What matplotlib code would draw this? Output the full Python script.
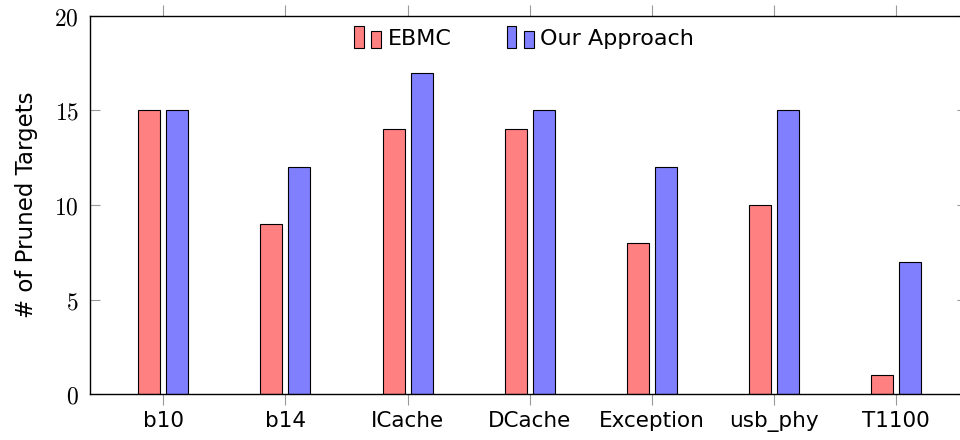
import matplotlib
matplotlib.use("Agg")
import numpy as np
import matplotlib.pyplot as plt
from matplotlib.patches import Rectangle
from matplotlib.legend_handler import HandlerBase
from matplotlib.ticker import FixedLocator, FuncFormatter

categories = ["b10", "b14", "ICache", "DCache", "Exception", "usb_phy", "T1100"]
ebmc = [15, 9, 14, 14, 8, 10, 1]
ours = [15, 12, 17, 15, 12, 15, 7]
yticks = [0, 5, 10, 15, 20]

red = "#ff8080"
blue = "#8080ff"

plt.rcParams["mathtext.fontset"] = "cm"
plt.rcParams["font.family"] = ["DejaVu Sans"]


class BarHandler(HandlerBase):
    # pgfplots style ybar legend: two small bars
    def create_artists(self, legend, orig_handle, xdescent, ydescent,
                       width, height, fontsize, trans):
        fc = orig_handle.get_facecolor()
        w = width * 0.36
        y0 = -ydescent - height * 0.2
        r1 = Rectangle((-xdescent, y0), w, height * 1.45,
                       facecolor=fc, edgecolor="black", lw=0.8, transform=trans)
        r2 = Rectangle((-xdescent + width * 0.64, y0), w, height * 1.12,
                       facecolor=fc, edgecolor="black", lw=0.8, transform=trans)
        return [r1, r2]


fig = plt.figure(figsize=(9.6, 4.4), dpi=100)
ax = fig.add_axes([90 / 960, 46 / 440, 877 / 960, 378 / 440])

x = np.arange(len(categories))
bw = 0.18
off = 0.115
b1 = ax.bar(x - off, ebmc, bw, color=red, edgecolor="black", linewidth=0.8, label="EBMC")
b2 = ax.bar(x + off, ours, bw, color=blue, edgecolor="black", linewidth=0.8, label="Our Approach")

ax.set_xlim(-0.6, 6.58)
ax.set_ylim(0, 20)

ax.set_xticks(x)
ax.set_xticklabels(categories, fontsize=15.5)
ax.tick_params(axis="x", direction="out", length=8, color="#999999",
               top=True, bottom=True, pad=4)
ax.yaxis.set_major_locator(FixedLocator(yticks))
ax.yaxis.set_major_formatter(FuncFormatter(lambda v, p: r"$%d$" % v))
ax.tick_params(axis="y", direction="in", length=7, color="#999999",
               left=True, right=True, labelsize=17, pad=8)

ax.set_ylabel("# of Pruned Targets", fontsize=16.5, labelpad=12)

for s in ax.spines.values():
    s.set_linewidth(1.0)

ax.legend(handles=[b1.patches[0], b2.patches[0]], labels=["EBMC", "Our Approach"],
          handler_map={matplotlib.patches.Rectangle: BarHandler()},
          loc="upper center", bbox_to_anchor=(0.495, 1.0), ncol=2, frameon=False,
          fontsize=16, handlelength=1.2, handletextpad=0.3, columnspacing=2.5,
          borderaxespad=0.2)

fig.savefig("out.png", dpi=100)
